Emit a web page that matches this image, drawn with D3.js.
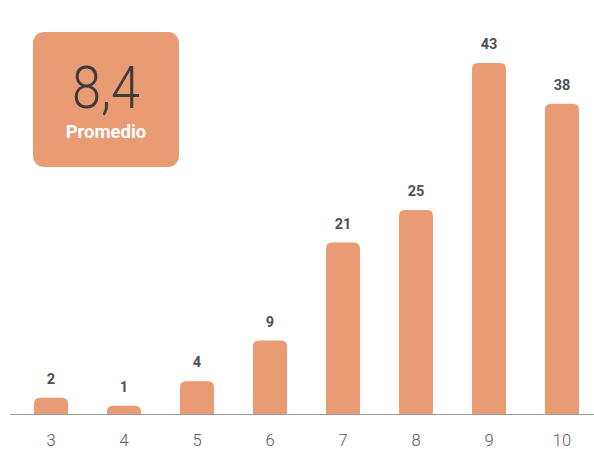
<!DOCTYPE html>
<html>
<head>
<meta charset="utf-8">
<script src="https://cdn.jsdelivr.net/npm/d3@7"></script>
<style>
  body { margin: 0; background: #fff; }
  text { font-family: Roboto, "DejaVu Sans", sans-serif; }
</style>
</head>
<body>
<div id="chart"></div>
<script>
// data
var categories = ["3", "4", "5", "6", "7", "8", "9", "10"];
var counts = [2, 1, 4, 9, 21, 25, 43, 38];
var average = "8,4";
var averageLabel = "Promedio";

var width = 594, height = 449;
var barColor = "#e99b73";
var baseline = 414;

var svg = d3.select("#chart")
    .append("svg")
    .attr("width", width)
    .attr("height", height);

var x = d3.scaleBand()
    .domain(categories)
    .range([14.5, 598.5])
    .paddingInner(0.534)
    .paddingOuter(0.267);

var y = d3.scaleLinear()
    .domain([0, 43])
    .range([baseline, 63]);

// bar with rounded top corners
function topRounded(x0, y0, w, h, r) {
    r = Math.min(r, h, w / 2);
    return "M" + x0 + "," + (y0 + h) +
        "V" + (y0 + r) +
        "Q" + x0 + "," + y0 + " " + (x0 + r) + "," + y0 +
        "H" + (x0 + w - r) +
        "Q" + (x0 + w) + "," + y0 + " " + (x0 + w) + "," + (y0 + r) +
        "V" + (y0 + h) + "Z";
}

var data = categories.map(function(c, i) { return { cat: c, value: counts[i] }; });

svg.selectAll(".bar")
    .data(data)
    .enter()
    .append("path")
    .attr("class", "bar")
    .attr("fill", barColor)
    .attr("d", function(d) {
        return topRounded(x(d.cat), y(d.value), x.bandwidth(), baseline - y(d.value), 6);
    });

// baseline
svg.append("line")
    .attr("x1", 10)
    .attr("x2", width)
    .attr("y1", baseline + 0.5)
    .attr("y2", baseline + 0.5)
    .attr("stroke", "#9a9a9a")
    .attr("stroke-width", 1.2);

// value labels
svg.selectAll(".val")
    .data(data)
    .enter()
    .append("text")
    .attr("class", "val")
    .attr("text-anchor", "middle")
    .attr("x", function(d) { return x(d.cat) + x.bandwidth() / 2; })
    .attr("y", function(d) { return y(d.value) - 14; })
    .attr("font-size", 14.5)
    .attr("font-weight", "bold")
    .attr("fill", "#505050")
    .text(function(d) { return d.value; });

// category labels
var xAxis = d3.axisBottom(x).tickSize(0).tickPadding(0);
var gx = svg.append("g")
    .attr("transform", "translate(0," + baseline + ")")
    .call(xAxis);
gx.select(".domain").remove();
gx.selectAll("text")
    .attr("dy", null)
    .attr("y", 32)
    .attr("font-size", 16.5)
    .attr("font-family", "Roboto, 'DejaVu Sans', sans-serif")
    .attr("font-weight", 300)
    .attr("fill", "#555");

// average box
var box = svg.append("g").attr("transform", "translate(33,32)");
box.append("rect")
    .attr("width", 146)
    .attr("height", 135)
    .attr("rx", 11)
    .attr("fill", barColor);
box.append("text")
    .attr("x", 73)
    .attr("y", 75.5)
    .attr("text-anchor", "middle")
    .attr("font-size", 59)
    .attr("font-weight", 300)
    .attr("fill", "#3c3c3c")
    .attr("textLength", 68)
    .attr("lengthAdjust", "spacingAndGlyphs")
    .text(average);
box.append("text")
    .attr("x", 73)
    .attr("y", 106)
    .attr("text-anchor", "middle")
    .attr("font-size", 18.5)
    .attr("font-weight", "bold")
    .attr("fill", "#fff")
    .text(averageLabel);
</script>
</body>
</html>
